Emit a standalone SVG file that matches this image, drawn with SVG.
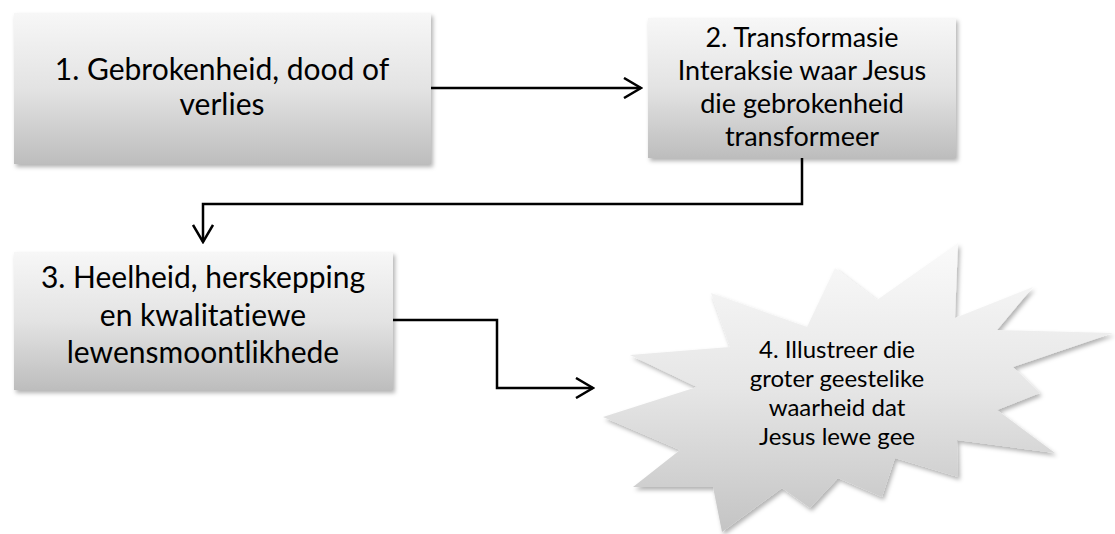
<svg xmlns="http://www.w3.org/2000/svg" width="1115" height="534" viewBox="0 0 1115 534">
  <defs>
    <linearGradient id="g" x1="0" y1="0" x2="0" y2="1">
      <stop offset="0" stop-color="#f7f7f7"/>
      <stop offset="0.5" stop-color="#e3e3e3"/>
      <stop offset="1" stop-color="#bdbdbd"/>
    </linearGradient>
    <linearGradient id="gs" x1="0" y1="0" x2="0" y2="1">
      <stop offset="0" stop-color="#fafafa"/>
      <stop offset="0.5" stop-color="#e6e6e6"/>
      <stop offset="1" stop-color="#c4c4c4"/>
    </linearGradient>
    <filter id="sh" x="-10%" y="-10%" width="120%" height="130%">
      <feDropShadow dx="2" dy="3" stdDeviation="2" flood-color="#000" flood-opacity="0.3"/>
    </filter>
    <marker id="ah" viewBox="0 0 20 22" refX="18" refY="11" markerWidth="20" markerHeight="22" markerUnits="userSpaceOnUse" orient="auto">
      <path d="M1,1 L18,11 L1,21" fill="none" stroke="#000" stroke-width="2.5"/>
    </marker>
    <style>
      .box { fill: url(#g); filter: url(#sh); }
      .star { fill: url(#gs); filter: url(#sh); }
      .t { font-family: Lato, "Open Sans", "Liberation Sans", sans-serif; fill: #000; text-anchor: middle; font-variant-ligatures: none; font-feature-settings: "liga" 0, "clig" 0; }
      .conn { fill: none; stroke: #000; stroke-width: 2.5; marker-end: url(#ah); }
    </style>
  </defs>

  <g id="node1">
    <rect class="box" x="14" y="13" width="417" height="151"/>
    <text class="t" font-size="30" x="222" y="80">1. Gebrokenheid, dood of</text>
    <text class="t" font-size="30" x="222" y="115">verlies</text>
  </g>

  <g id="node2">
    <rect class="box" x="648" y="18" width="308" height="140"/>
    <text class="t" font-size="27" x="802" y="47">2. Transformasie</text>
    <text class="t" font-size="27" x="802" y="80">Interaksie waar Jesus</text>
    <text class="t" font-size="27" x="802" y="113">die gebrokenheid</text>
    <text class="t" font-size="27" x="802" y="146">transformeer</text>
  </g>

  <g id="node3">
    <rect class="box" x="14" y="252" width="379" height="138"/>
    <text class="t" font-size="30" x="203" y="288">3. Heelheid, herskepping</text>
    <text class="t" font-size="30" x="203" y="326">en kwalitatiewe</text>
    <text class="t" font-size="30" x="203" y="363">lewensmoontlikhede</text>
  </g>

  <g id="node4">
    <polygon class="star" points="958,243 955,318 1033,287 997,330 1113,333 1013,367 1040,393 997,410 1055,453 957,440 958,477 895,458 882,497 838,478 810,508 782,488 722,532 713,487 633,487 680,450 603,417 697,387 630,355 730,347 711,293 807,327 835,268 877,300"/>
    <text class="t" font-size="24" x="837" y="358">4. Illustreer die</text>
    <text class="t" font-size="24" x="837" y="387">groter geestelike</text>
    <text class="t" font-size="24" x="837" y="416">waarheid dat</text>
    <text class="t" font-size="24" x="837" y="445">Jesus lewe gee</text>
  </g>

  <g id="connectors">
    <path class="conn" d="M431,88 H641"/>
    <path class="conn" d="M802,158 V204 H203 V242"/>
    <path class="conn" d="M393,320 H497 V388 H593"/>
  </g>
</svg>
